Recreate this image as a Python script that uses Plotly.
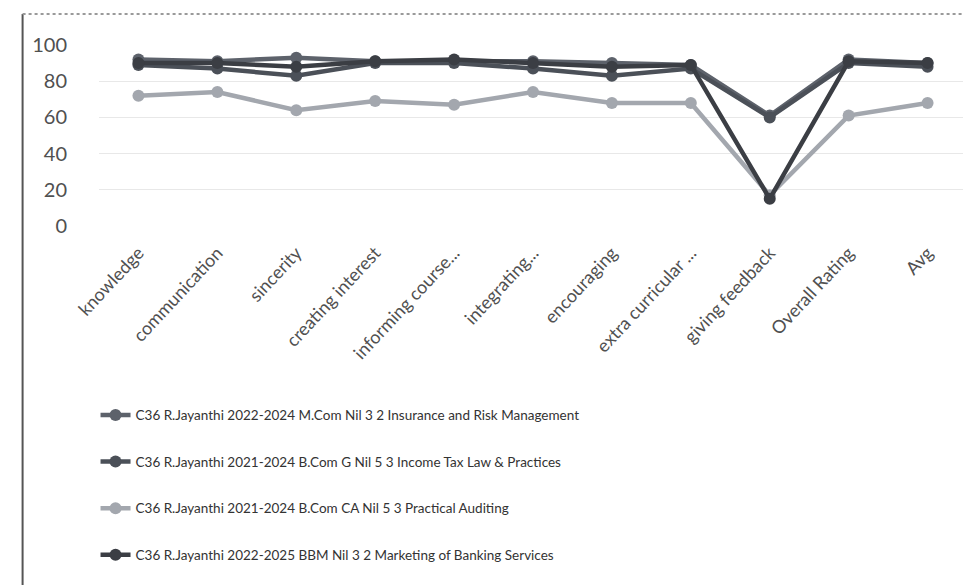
import plotly.graph_objects as go

categories = ["knowledge", "communication", "sincerity", "creating interest",
              "informing course...", "integrating...", "encouraging",
              "extra curricular ...", "giving feedback", "Overall Rating", "Avg"]

series_names = [
    "C36 R.Jayanthi 2022-2024 M.Com Nil 3 2 Insurance and Risk Management",
    "C36 R.Jayanthi 2021-2024 B.Com G Nil 5 3 Income Tax Law & Practices",
    "C36 R.Jayanthi 2021-2024 B.Com CA Nil 5 3 Practical Auditing",
    "C36 R.Jayanthi 2022-2025 BBM Nil 3 2 Marketing of Banking Services",
]
s1 = [92, 91, 93, 91, 91, 91, 90, 89, 61, 92, 90]
s2 = [89, 87, 83, 90, 90, 87, 83, 87, 60, 90, 88]
s3 = [72, 74, 64, 69, 67, 74, 68, 68, 17, 61, 68]
s4 = [90, 90, 88, 91, 92, 90, 88, 89, 15, 91, 90]
series_values = [s1, s2, s3, s4]
colors = ["#5d626b", "#4b5058", "#a3a7ae", "#3b3e44"]
y_ticks = [0, 20, 40, 60, 80, 100]

fig = go.Figure()
for i, (name, vals, col) in enumerate(zip(series_names, series_values, colors)):
    fig.add_trace(go.Scatter(
        x=categories, y=vals, name=name, mode="lines+markers",
        line=dict(color=col, width=4.5),
        marker=dict(color=col, size=12, symbol="circle"),
        legendgroup=f"g{i}",
    ))

W, H = 971, 585
L, R = 90.5, 959.5
T, B = 37, 218
fig.update_layout(
    width=W, height=H,
    margin=dict(l=L, r=W - R, t=T, b=H - B, autoexpand=False),
    paper_bgcolor="white", plot_bgcolor="white",
    font=dict(family="Lato, 'Open Sans', sans-serif", color="#404040"),
    showlegend=True,
    legend=dict(
        x=-0.004, xanchor="left", y=-0.96, yanchor="top",
        font=dict(size=13.5, color="#333333", family="Lato, sans-serif"),
        tracegroupgap=26, itemwidth=30, bgcolor="rgba(0,0,0,0)",
    ),
    xaxis=dict(
        type="category", range=[-0.5, 10.5],
        tickangle=-47, tickfont=dict(size=18, color="#505050"),
        showgrid=False, zeroline=False, showline=False, ticks="",
        ticklabelstandoff=12,
    ),
    yaxis=dict(
        range=[0, 100], tickvals=y_ticks,
        tickfont=dict(size=20, color="#505050"),
        showgrid=True, gridcolor="#e8e8e8", gridwidth=1,
        zeroline=False, showline=False, ticks="",
        ticklabelstandoff=31,
    ),
)

def px_x(p):
    return (p - L) / (R - L)

def px_y(p):
    return (B - p) / (B - T)

fig.add_shape(type="line", xref="paper", yref="paper",
              x0=px_x(14), x1=px_x(14), y0=px_y(6), y1=px_y(582),
              line=dict(color="#555555", width=2))
fig.add_shape(type="line", xref="paper", yref="paper",
              x0=px_x(14), x1=px_x(968), y0=px_y(6), y1=px_y(6),
              line=dict(color="#9a9a9a", width=2, dash="dot"))
fig.add_shape(type="line", xref="paper", yref="paper",
              x0=px_x(14), x1=px_x(968), y0=px_y(582), y1=px_y(582),
              line=dict(color="#bbbbbb", width=1.5))

fig.write_html("out.html")
